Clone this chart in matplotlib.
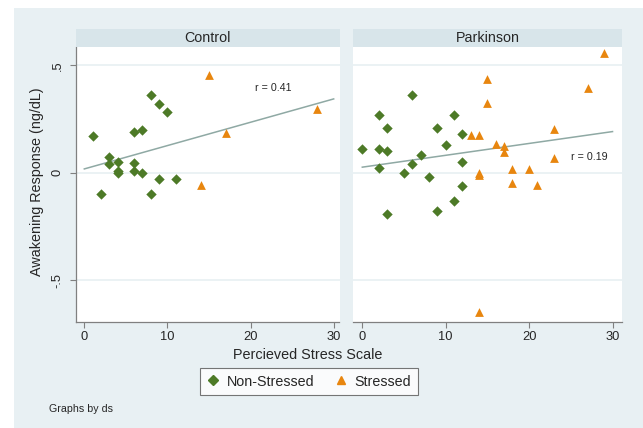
import matplotlib.pyplot as plt
from matplotlib.lines import Line2D
from matplotlib.patches import Rectangle
import numpy as np

plt.rcParams['font.family'] = ['Liberation Sans', 'DejaVu Sans']

# data ----------------------------------------------------------------------
panels = ["Control", "Parkinson"]

ctrl_ns_x = [1, 2, 3, 3, 4, 4, 4, 6, 7, 6, 6, 7, 8, 9, 10, 8, 9, 11]
ctrl_ns_y = [0.17, -0.10, 0.073, 0.04, 0.05, 0.01, 0.0, 0.19, 0.20, 0.043,
             0.01, 0.0, 0.36, 0.32, 0.28, -0.10, -0.03, -0.03]
ctrl_s_x = [15, 17, 14, 28]
ctrl_s_y = [0.454, 0.183, -0.056, 0.295]

park_ns_x = [0, 2, 2, 2, 3, 3, 3, 5, 6, 6, 7, 8, 9, 9, 10, 11, 11, 12, 12, 12]
park_ns_y = [0.112, 0.27, 0.112, 0.022, 0.21, 0.10, -0.19, 0.0, 0.36, 0.04,
             0.082, -0.019, 0.21, -0.18, 0.13, 0.27, -0.13, 0.18, 0.05, -0.06]
park_s_x = [13, 14, 14, 14, 15, 15, 16, 17, 17, 18, 18, 20, 21, 23, 23, 27, 29, 14]
park_s_y = [0.175, 0.175, 0.0, -0.012, 0.436, 0.326, 0.133, 0.125, 0.095,
            0.016, -0.047, 0.016, -0.056, 0.203, 0.067, 0.395, 0.555, -0.65]

r_labels = ["r = 0.41", "r = 0.19"]
r_pos = [(22.7, 0.394), (27.2, 0.074)]

xticks = [0, 10, 20, 30]
yticks = [-0.5, 0, 0.5]
yticklabels = ["-.5", "0", ".5"]

# colours
bg = "#E8F0F3"
strip_c = "#D8E5EA"
grid_c = "#E9F1F3"
green = "#4D7A27"
orange = "#E8860F"
line_c = "#8FA9A4"
txt_c = "#262626"
axis_c = "#808080"

W, H = 643, 428


def box(x0, y0, x1, y1):
    # pixel box (top-left origin) -> figure fraction
    return [x0 / W, 1 - y1 / H, (x1 - x0) / W, (y1 - y0) / H]


fig = plt.figure(figsize=(6.43, 4.28), dpi=100)
fig.patch.set_facecolor("white")
fig.patches.append(Rectangle((14 / W, 0), 1, 1 - 8 / H, transform=fig.transFigure,
                             facecolor=bg, edgecolor="none", zorder=-10))

panel_px = [(76, 339.5), (353.3, 621.7)]
xlims = [(-1.0, 30.7), (-1.08, 31.1)]
data = [(ctrl_ns_x, ctrl_ns_y, ctrl_s_x, ctrl_s_y),
        (park_ns_x, park_ns_y, park_s_x, park_s_y)]

for k in range(2):
    x0, x1 = panel_px[k]
    ax = fig.add_axes(box(x0, 46.7, x1, 321.7))
    ax.set_facecolor("white")
    nsx, nsy, sx, sy = data[k]

    for yv in yticks:
        ax.axhline(yv, color=grid_c, lw=1.3, zorder=0)

    # linear fit over the whole panel
    allx = np.array(nsx + sx, dtype=float)
    ally = np.array(nsy + sy, dtype=float)
    b, a = np.polyfit(allx, ally, 1)
    xx = np.array([0, 30])
    ax.plot(xx, a + b * xx, color=line_c, lw=1.1, zorder=2)

    ax.scatter(nsx, nsy, marker="D", s=28, color=green, lw=0, zorder=3)
    ax.scatter(sx, sy, marker="^", s=40, color=orange, lw=0, zorder=3)

    ax.text(r_pos[k][0], r_pos[k][1], r_labels[k], fontsize=7.7, color=txt_c,
            ha="center", va="center")

    ax.set_xlim(*xlims[k])
    ax.set_ylim(-0.693, 0.586)
    ax.set_xticks(xticks)
    ax.set_xticklabels([str(t) for t in xticks])
    ax.tick_params(axis="x", length=4, width=0.8, color=axis_c, labelsize=9.3,
                   labelcolor=txt_c, pad=3)
    for s in ["top", "right"]:
        ax.spines[s].set_visible(False)
    ax.spines["bottom"].set_color(axis_c)
    ax.spines["bottom"].set_linewidth(0.9)
    if k == 0:
        ax.spines["left"].set_color(axis_c)
        ax.spines["left"].set_linewidth(0.9)
        ax.set_yticks(yticks)
        ax.set_yticklabels(yticklabels, rotation=90, va="center")
        ax.tick_params(axis="y", length=4, width=0.8, color=axis_c, labelsize=9.3,
                       labelcolor=txt_c, pad=5)
    else:
        ax.spines["left"].set_visible(False)
        ax.set_yticks([])

    # title strip
    sax = fig.add_axes(box(x0, 28.5, x1, 46.7))
    sax.set_facecolor(strip_c)
    sax.set_xticks([])
    sax.set_yticks([])
    for s in sax.spines.values():
        s.set_visible(False)
    sax.text(0.5, 0.5, panels[k], transform=sax.transAxes, fontsize=10.3,
             color=txt_c, ha="center", va="center")

fig.text(37 / W, 1 - 182 / H, "Awakening Response (ng/dL)", rotation=90,
         fontsize=10.4, color=txt_c, ha="center", va="center")
fig.text(308 / W, 1 - 355 / H, "Percieved Stress Scale", fontsize=10.4,
         color=txt_c, ha="center", va="center")
fig.text(49 / W, 1 - 409 / H, "Graphs by ds", fontsize=7.7, color=txt_c,
         ha="left", va="center")

handles = [Line2D([], [], marker="D", ls="none", color=green, ms=5),
           Line2D([], [], marker="^", ls="none", color=orange, ms=6)]
leg = fig.legend(handles, ["Non-Stressed", "Stressed"], loc="center",
                 bbox_to_anchor=(309 / W, 1 - 381.5 / H), ncol=2, fontsize=10.3,
                 frameon=True, fancybox=False, handlelength=0.9,
                 handletextpad=0.5, columnspacing=1.4, borderpad=0.45,
                 borderaxespad=0)
leg.get_frame().set_edgecolor("#555555")
leg.get_frame().set_linewidth(0.8)
leg.get_frame().set_facecolor("white")
for t in leg.get_texts():
    t.set_color(txt_c)

fig.savefig("out.png", dpi=100, facecolor=fig.get_facecolor())
